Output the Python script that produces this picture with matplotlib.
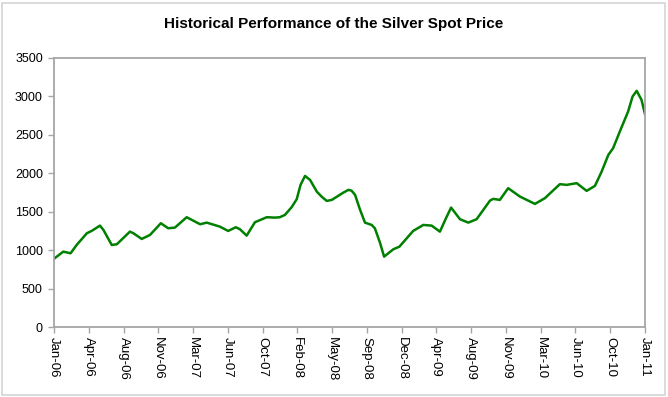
import matplotlib.pyplot as plt
import matplotlib.dates as mdates
from matplotlib.patches import Rectangle
import numpy as np
import pandas as pd

plt.rcParams['font.family'] = ['Liberation Sans', 'DejaVu Sans']

# silver spot price
dates = ['2006-01-01', '2006-01-30', '2006-02-22', '2006-03-13', '2006-04-14', '2006-04-29',
         '2006-05-25', '2006-06-05', '2006-07-01', '2006-07-17', '2006-08-27', '2006-09-07',
         '2006-10-03', '2006-10-29', '2006-12-02', '2006-12-25', '2007-01-15', '2007-02-21',
         '2007-04-04', '2007-04-25', '2007-06-05', '2007-07-01', '2007-07-25', '2007-08-07',
         '2007-08-28', '2007-09-23', '2007-10-30', '2007-11-25', '2007-12-10', '2007-12-26',
         '2008-01-16', '2008-02-01', '2008-02-13', '2008-02-27', '2008-03-14', '2008-04-04',
         '2008-04-19', '2008-05-05', '2008-05-21', '2008-06-26', '2008-07-12', '2008-07-22',
         '2008-08-02', '2008-08-17', '2008-09-02', '2008-09-23', '2008-10-03', '2008-10-19',
         '2008-11-01', '2008-11-14', '2008-11-30', '2008-12-19', '2009-01-31', '2009-03-04',
         '2009-03-30', '2009-04-25', '2009-05-14', '2009-05-30', '2009-06-27', '2009-07-23',
         '2009-08-18', '2009-09-29', '2009-10-09', '2009-10-30', '2009-11-25', '2010-01-01',
         '2010-02-17', '2010-03-20', '2010-05-06', '2010-05-27', '2010-06-28', '2010-07-29',
         '2010-08-24', '2010-09-14', '2010-10-05', '2010-10-20', '2010-11-10', '2010-12-06',
         '2010-12-20', '2011-01-02', '2011-01-17', '2011-01-28']
prices = [890, 982, 961, 1069, 1221, 1251,
          1320, 1264, 1069, 1078, 1242, 1221,
          1147, 1199, 1351, 1286, 1294, 1429,
          1338, 1359, 1307, 1251, 1299, 1273,
          1190, 1364, 1429, 1424, 1429, 1459,
          1559, 1663, 1849, 1965, 1913, 1761,
          1697, 1641, 1654, 1748, 1784, 1774,
          1719, 1533, 1359, 1329, 1286, 1099,
          917, 961, 1013, 1047, 1251, 1329,
          1320, 1242, 1416, 1554, 1403, 1359,
          1403, 1645, 1667, 1654, 1806, 1697,
          1602, 1676, 1858, 1849, 1871, 1771,
          1836, 2021, 2238, 2325, 2541, 2801,
          2996, 3070, 2953, 2767]

x = pd.to_datetime(dates)
start = pd.Timestamp('2006-01-01')
tick_dates = [start + pd.Timedelta(days=109 * k) for k in range(18)]

fig = plt.figure(figsize=(6.68, 3.97), dpi=100)
fig.patches.append(Rectangle((2 / 668, 2 / 397), 663 / 668, 392 / 397, transform=fig.transFigure,
                             fill=False, edgecolor='#d4d4d4', linewidth=1.2))

ax = fig.add_axes([54 / 668, 1 - 327.3 / 397, 591 / 668, 269.6 / 397])
ax.plot(x, prices, color='#008000', linewidth=1.8, solid_joinstyle='round')

ax.set_ylim(0, 3500)
ax.set_yticks(np.arange(0, 3501, 500))
ax.set_xlim(start, tick_dates[-1])
ax.set_xticks(tick_dates)
ax.xaxis.set_major_formatter(mdates.DateFormatter('%b-%y'))

for side in ['left', 'bottom', 'top', 'right']:
    ax.spines[side].set_color('#a6a6a6')
    ax.spines[side].set_linewidth(1.3)
ax.tick_params(axis='both', direction='out', length=4, width=1, color='#a6a6a6', labelsize=9)
ax.tick_params(axis='x', labelrotation=270, pad=3, labelsize=9.5)
ax.tick_params(axis='y', pad=4)
for lab in ax.get_xticklabels():
    lab.set_va('top')
    lab.set_ha('center')

fig.text(0.5, 1 - 24 / 397, 'Historical Performance of the Silver Spot Price',
         ha='center', va='center', fontsize=11, fontweight='bold')

fig.savefig('out.png', dpi=100)
